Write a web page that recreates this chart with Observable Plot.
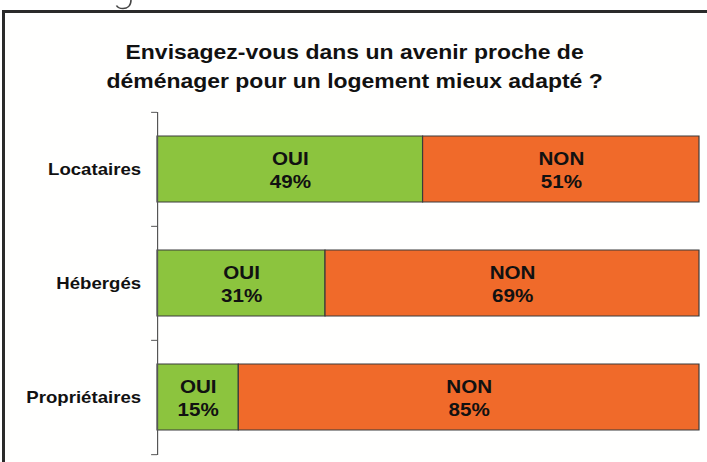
<!DOCTYPE html>
<html>
<head>
<meta charset="utf-8">
<script src="https://cdn.jsdelivr.net/npm/d3@7"></script>
<script src="https://cdn.jsdelivr.net/npm/@observablehq/plot@0.6"></script>
<style>
  html, body { margin: 0; padding: 0; background: #fff; }
  #wrap { position: relative; width: 707px; height: 462px; overflow: hidden; background: #fff; }
  #frame { position: absolute; left: 2px; top: 10px; width: 720px; height: 470px;
           border-left: 3px solid #2a2a2a; border-top: 3px solid #2a2a2a; background: #fffffe; }
  #frag { position: absolute; left: 0; top: 0; }
  #chart { position: absolute; left: 0; top: 0; }
</style>
</head>
<body>
<div id="wrap">
  <svg id="frag" width="200" height="12"><path d="M131,0 C131,6 127,8.5 123,8.5 C119.5,8.5 117.5,7.5 116.5,5.5" fill="none" stroke="#444" stroke-width="1.6"/></svg>
  <div id="frame"></div>
  <div id="chart"></div>
</div>
<script>
const title = "Envisagez-vous dans un avenir proche de\ndéménager pour un logement mieux adapté ?";
const categories = ["Locataires", "Hébergés", "Propriétaires"];
const answers = ["OUI", "NON"];
const ouiValues = [49, 31, 15];
const nonValues = [51, 69, 85];
const answerColors = ["#8cc43e", "#f06a2a"];

const rows = categories.flatMap((c, i) => [
  {cat: c, answer: answers[0], x1: 0, x2: ouiValues[i], v: ouiValues[i]},
  {cat: c, answer: answers[1], x1: ouiValues[i], x2: ouiValues[i] + nonValues[i], v: nonValues[i]}
]);

const W = 600, H = 462, S = 707 / W;
const mTop = 112, mBottom = 7;
const step = (H - mTop - mBottom) / categories.length;
const font = "'Liberation Sans', Arial, sans-serif";

const plot = Plot.plot({
  width: W,
  height: H,
  marginLeft: 157 / S,
  marginRight: W - 699 / S,
  marginTop: mTop,
  marginBottom: mBottom,
  style: {fontFamily: font, background: "transparent", overflow: "visible"},
  x: {domain: [0, 100], axis: null},
  y: {domain: categories, paddingInner: 0.42, paddingOuter: 0.21, label: null, axis: null},
  color: {domain: answers, range: answerColors},
  marks: [
    Plot.barX(rows, {y: "cat", x1: "x1", x2: "x2", fill: "answer", stroke: "#3a3a3a", strokeWidth: 1}),
    Plot.text(rows, {
      y: "cat", x: d => (d.x1 + d.x2) / 2,
      text: d => `${d.answer}\n${d.v}%`,
      fontSize: 17.5, fontWeight: "bold", fill: "#111", lineHeight: 1.3
    }),
    Plot.ruleX([0], {stroke: "#555", strokeWidth: 1}),
    Plot.axisY({tickSize: 0, tickPadding: 14, tickFormat: d => d, fontSize: 15.8, fontWeight: "bold", fill: "#111", label: null}),
    Plot.axisY({tickSize: 5, tickFormat: null, stroke: "#555", dy: -step / 2, label: null}),
    Plot.axisY({ticks: [categories[categories.length - 1]], tickSize: 5, tickFormat: null, stroke: "#555", dy: step / 2, label: null}),
    Plot.text([title], {
      frameAnchor: "top", dx: 354 / S - ((157 / S) + (699 / S)) / 2, dy: -73,
      lineAnchor: "top", fontSize: 19.5, fontWeight: "bold", fill: "#111", lineHeight: 1.44
    })
  ]
});

plot.setAttribute("width", 707);
plot.setAttribute("height", H);
plot.setAttribute("viewBox", `0 0 ${W} ${H}`);
plot.setAttribute("preserveAspectRatio", "none");
plot.style.width = "707px";
plot.style.height = H + "px";
plot.style.maxWidth = "none";
document.getElementById("chart").appendChild(plot);
</script>
</body>
</html>
